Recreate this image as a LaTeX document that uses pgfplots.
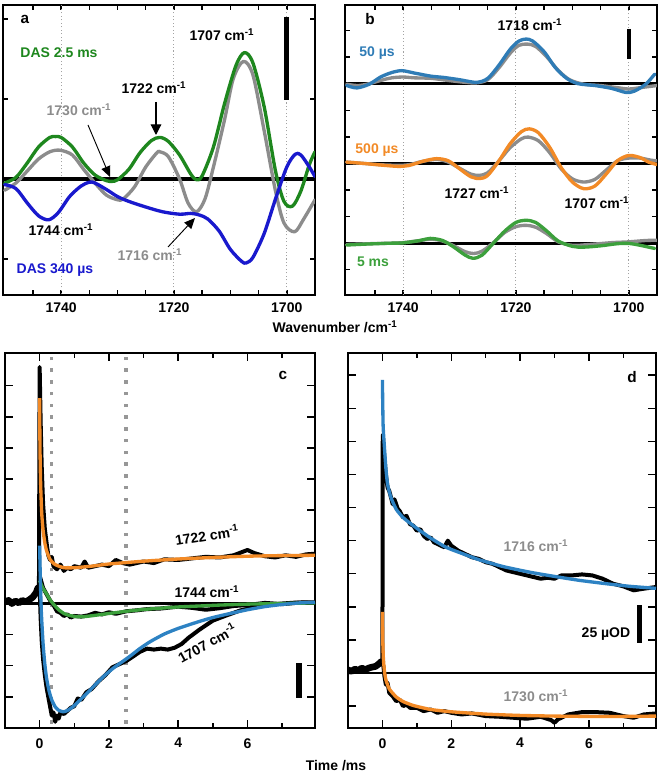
\documentclass[border=0pt]{standalone}
\usepackage{fontspec}
\setmainfont{Liberation Sans}
\usepackage{pgfplots}
\pgfplotsset{compat=1.18}
\usetikzlibrary{arrows.meta}

\definecolor{agreen}{RGB}{30,135,30}
\definecolor{agray}{RGB}{140,140,140}
\definecolor{ablue}{RGB}{25,25,205}
\definecolor{bblue}{RGB}{47,124,182}
\definecolor{borange}{RGB}{242,138,38}
\definecolor{bgreen}{RGB}{60,160,60}
\definecolor{cblue}{RGB}{45,130,195}

\newcommand{\lbl}{\fontsize{10.5}{12}\selectfont\bfseries}
\newcommand{\cmi}{cm\textsuperscript{-1}}

\pgfplotsset{
  frame/.style={
    scale only axis, clip=true,
    axis line style={line width=1.3pt},
    every tick/.style={black, line width=1.1pt},
    tick align=inside, tick pos=both, xticklabel pos=lower,
    yticklabels={},
    ticklabel style={font=\lbl},
  },
  panelab/.style={frame,
    x dir=reverse, xmin=1695, xmax=1750.3,
    xtick={1740,1720,1700}, xticklabels={1740,1720,1700},
    minor xtick={1745,1735,1730,1725,1715,1710,1705},
    major tick length=3.8pt, minor tick length=3.8pt,
    xticklabel style={yshift=-2.2pt},
  },
  panelcd/.style={frame,
    xmin=-1, xmax=7.95,
    xtick={0,2,4,6}, xticklabels={0,2,4,6},
    minor xtick={1,3,5,7},
    major tick length=6pt, minor tick length=3.8pt,
    xticklabel style={yshift=-4.2pt},
  },
  dotln/.style={agray!80, line width=0.8pt, dash pattern=on 0.8pt off 1.8pt, forget plot},
  thk/.style={line width=2.5pt, smooth, line join=round, line cap=round},
  fit/.style={line width=2.5pt, smooth, tension=0.35, line join=round},
  dat/.style={black, line width=3pt, line join=round},
}

\begin{document}
\begin{tikzpicture}
\useasboundingbox (0,0) rectangle (495pt,582pt);

% ---------------- panel a ----------------
\begin{axis}[panelab, at={(2.25pt,360.75pt)}, anchor=south west, width=234pt, height=217.5pt,
  ymin=-1.45, ymax=2.175, ytick={-1,0,1,2}]
\addplot[dotln] coordinates {(1740,-3)(1740,3)};
\addplot[dotln] coordinates {(1720,-3)(1720,3)};
\addplot[dotln] coordinates {(1700,-3)(1700,3)};
\addplot[black, line width=2.4pt] coordinates {(1750.3,0)(1695,0)};
\addplot[agray, thk] coordinates {
(1750,-0.14)(1748,-0.05)(1746,0.1)(1744,0.25)(1742,0.34)(1740.2,0.36)(1738,0.3)(1736,0.12)
(1734,-0.05)(1732,-0.2)(1730,-0.26)(1729,-0.25)(1727,-0.1)(1725,0.15)(1723,0.33)(1722.5,0.34)
(1721,0.28)(1719,0.0)(1717.5,-0.3)(1716,-0.41)(1714.5,-0.25)(1713,0.15)(1711,0.75)(1709.5,1.25)
(1707.7,1.47)(1706,1.3)(1704,0.6)(1702,-0.15)(1700.5,-0.55)(1698.6,-0.66)(1697,-0.5)(1695,-0.26)};
\addplot[agreen, thk] coordinates {
(1750,-0.05)(1748,0.02)(1746,0.2)(1744,0.4)(1742,0.52)(1741,0.53)(1740,0.52)(1738,0.4)
(1736,0.2)(1734,0.05)(1732,-0.02)(1731,-0.03)(1730,-0.01)(1728,0.12)(1726,0.33)(1724,0.48)
(1722.5,0.52)(1721,0.47)(1719,0.3)(1717,0.06)(1716,-0.01)(1715,0.04)(1713,0.4)(1711,0.95)
(1709,1.42)(1707.5,1.58)(1706,1.45)(1704,0.9)(1702,0.1)(1700.5,-0.28)(1699,-0.34)(1697.5,-0.15)
(1696,0.18)(1695,0.34)};
\addplot[ablue, thk] coordinates {
(1750,-0.07)(1748,-0.12)(1746,-0.3)(1744,-0.46)(1742.2,-0.51)(1740.5,-0.42)(1738.5,-0.22)
(1736.5,-0.09)(1735,-0.04)(1734,-0.05)(1732,-0.13)(1730,-0.22)(1728,-0.28)(1725,-0.35)
(1722,-0.41)(1719,-0.44)(1717,-0.43)(1715.5,-0.45)(1714,-0.5)(1712,-0.65)(1710,-0.88)
(1708,-1.03)(1707.2,-1.05)(1706,-0.98)(1704,-0.68)(1702,-0.25)(1700,0.15)(1698.5,0.31)
(1697.5,0.3)(1696,0.15)(1695,0.03)};
\draw[black, line width=3.8pt] (axis cs:1700,2.025) -- (axis cs:1700,0.99);
\end{axis}

% ---------------- panel b ----------------
\begin{axis}[panelab, at={(258.75pt,360.75pt)}, anchor=south west, width=234pt, height=217.5pt,
  ymin=-1.95, ymax=8.96, ytick={-1,0,1,2,3,4,5,6,7,8}]
\addplot[dotln] coordinates {(1740,-3)(1740,10)};
\addplot[dotln] coordinates {(1720,-3)(1720,10)};
\addplot[dotln] coordinates {(1700,-3)(1700,10)};
\addplot[black, line width=2.2pt] coordinates {(1750.3,6)(1695,6)};
\addplot[black, line width=2.2pt] coordinates {(1750.3,3)(1695,3)};
\addplot[black, line width=2.2pt] coordinates {(1750.3,0)(1695,0)};
% 50 us
\addplot[agray, thk] coordinates {
(1750,5.98)(1748,5.93)(1746,6.0)(1744,6.12)(1742,6.22)(1740,6.25)(1738,6.22)(1735,6.2)
(1732,6.12)(1729,6.05)(1727,6.03)(1725,6.15)(1723,6.6)(1721,7.15)(1719.5,7.44)(1718,7.49)
(1716.5,7.4)(1714.5,7.0)(1712.5,6.5)(1710.5,6.15)(1708,5.98)(1705,5.93)(1702,5.85)(1700,5.8)
(1698,5.85)(1695,5.93)};
\addplot[bblue, thk] coordinates {
(1750,5.93)(1748.2,5.84)(1746,5.98)(1744,6.25)(1742,6.42)(1740.2,6.49)(1738,6.4)(1735,6.28)
(1733,6.24)(1730,6.15)(1727,6.05)(1725,6.2)(1723,6.7)(1721,7.3)(1719.5,7.6)(1718.2,7.68)
(1717,7.6)(1715,7.2)(1713,6.6)(1711,6.2)(1709,6.0)(1706,5.93)(1703,5.82)(1700.5,5.67)
(1699,5.72)(1697,5.98)(1695.4,6.36)};
% 500 us
\addplot[agray, thk] coordinates {
(1750,3.05)(1747,3.0)(1744,2.95)(1741,2.93)(1739,2.95)(1736.5,3.08)(1734,3.15)(1732,3.05)
(1730,2.82)(1728,2.6)(1726.5,2.55)(1725,2.65)(1723,3.1)(1721,3.6)(1719,3.93)(1717.8,3.99)
(1716,3.85)(1714,3.4)(1712,2.8)(1710,2.42)(1708,2.3)(1706,2.4)(1704,2.75)(1702,3.1)
(1700,3.2)(1698,3.2)(1696,3.12)(1695,3.1)};
\addplot[borange, thk] coordinates {
(1750,3.05)(1747,3.0)(1744,2.94)(1741,2.89)(1739,2.92)(1736.5,3.08)(1734.1,3.18)(1732,3.1)
(1730,2.8)(1728,2.5)(1726.4,2.43)(1725,2.55)(1723,3.1)(1721,3.75)(1719,4.2)(1717.6,4.3)
(1716,4.15)(1714,3.6)(1712,2.85)(1710,2.3)(1708,2.05)(1706,2.15)(1704,2.6)(1702,3.1)
(1700,3.3)(1698,3.22)(1696.5,3.05)(1695,2.96)};
% 5 ms
\addplot[agray, thk] coordinates {
(1750,-0.05)(1746,-0.02)(1742,0.0)(1740,0.02)(1737,0.1)(1735,0.15)(1733,0.08)(1731,-0.1)
(1729,-0.32)(1727.5,-0.39)(1726,-0.3)(1724,0.02)(1722,0.4)(1720,0.62)(1718.2,0.67)
(1716.5,0.6)(1714.5,0.35)(1712.5,0.05)(1710,-0.08)(1707,-0.05)(1703,0.02)(1700,0.05)
(1697,0.1)(1695,0.11)};
\addplot[bgreen, thk] coordinates {
(1750,-0.07)(1746,-0.03)(1742,0.0)(1740,0.01)(1737,0.1)(1735.2,0.18)(1733,0.1)(1731,-0.15)
(1729,-0.45)(1727.6,-0.57)(1726,-0.45)(1724,0.0)(1722,0.45)(1720,0.78)(1718.2,0.86)
(1716.5,0.78)(1714.5,0.45)(1712.5,0.08)(1710,-0.12)(1708,-0.15)(1705,-0.1)(1702,-0.02)
(1700,-0.01)(1698,-0.08)(1695.4,-0.2)};
\draw[black, line width=3.2pt] (axis cs:1700,8.06) -- (axis cs:1700,6.94);
\end{axis}

% ---------------- panel c ----------------
\begin{axis}[panelcd, at={(3.75pt,36pt)}, anchor=south west, width=232.5pt, height=281.25pt,
  ymin=-4, ymax=8.05, ytick={-3,-2,-1,0,1,2,3,4,5,6,7}]
\addplot[agray!90, line width=2.8pt, dash pattern=on 2.6pt off 6.2pt] coordinates {(0.34,-5)(0.34,9)};
\addplot[agray!90, line width=2.8pt, dash pattern=on 2.6pt off 6.2pt] coordinates {(2.5,-5)(2.5,9)};
\addplot[black, line width=2pt] coordinates {(-1,0)(7.95,0)};
% pre-zero noise
\addplot[black, line width=5pt, line join=round] coordinates {
(-1,0.05)(-0.9,0.1)(-0.8,0.0)(-0.7,0.08)(-0.6,0.02)(-0.5,0.1)(-0.4,0.05)(-0.3,0.12)
(-0.2,0.2)(-0.1,0.35)(-0.05,0.5)(-0.02,0.3)};
% 1722 data
\addplot[dat] coordinates {
(-0.02,0.3)(0,7.6)(0.03,5.8)(0.06,4.4)(0.1,3.2)(0.15,2.4)(0.2,1.95)(0.25,1.55)(0.3,1.4)
(0.35,1.5)(0.4,1.2)(0.5,1.1)(0.6,1.25)(0.7,1.05)(0.8,1.15)(0.9,1.1)(1.0,1.2)(1.2,1.15)
(1.3,1.35)(1.4,1.15)(1.6,1.2)(1.8,1.25)(2.0,1.2)(2.2,1.4)(2.4,1.3)(2.6,1.25)(2.8,1.3)
(3.0,1.35)(3.3,1.3)(3.6,1.42)(4.0,1.4)(4.4,1.45)(4.8,1.5)(5.2,1.48)(5.6,1.55)(6.0,1.72)
(6.2,1.62)(6.5,1.52)(6.8,1.48)(7.1,1.55)(7.4,1.5)(7.7,1.58)(7.95,1.6)};
% 1744 data
\addplot[dat] coordinates {
(-0.02,0.3)(0,0.9)(0.05,0.7)(0.1,0.5)(0.2,0.3)(0.3,0.1)(0.4,-0.05)(0.5,-0.25)(0.6,-0.3)
(0.7,-0.4)(0.8,-0.35)(0.9,-0.45)(1.0,-0.4)(1.2,-0.42)(1.4,-0.38)(1.6,-0.3)(1.8,-0.35)
(2.0,-0.28)(2.2,-0.33)(2.5,-0.25)(2.8,-0.22)(3.1,-0.18)(3.5,-0.16)(4,-0.1)(4.4,-0.14)
(4.8,-0.2)(5.2,-0.15)(5.6,-0.08)(6,-0.05)(6.5,0.02)(7,-0.02)(7.5,0.03)(7.95,0.02)};
% 1707 data
\addplot[dat] coordinates {
(-0.02,0.3)(0,0.5)(0.03,-0.5)(0.06,-1.2)(0.1,-1.8)(0.15,-2.3)(0.2,-2.7)(0.25,-3.0)(0.3,-3.3)
(0.35,-3.6)(0.4,-3.5)(0.45,-3.8)(0.5,-3.6)(0.55,-3.7)(0.6,-3.5)(0.7,-3.55)(0.8,-3.45)
(0.9,-3.35)(1.0,-3.3)(1.1,-3.05)(1.2,-3.1)(1.35,-2.85)(1.5,-2.75)(1.7,-2.5)(1.9,-2.3)
(2.1,-2.05)(2.3,-1.95)(2.5,-1.85)(2.7,-1.7)(2.9,-1.55)(3.1,-1.45)(3.3,-1.48)(3.5,-1.45)
(3.7,-1.48)(3.9,-1.42)(4.1,-1.3)(4.3,-1.1)(4.6,-0.85)(5.0,-0.55)(5.4,-0.38)(5.8,-0.22)
(6.2,-0.12)(6.6,-0.05)(7.0,0.0)(7.4,0.03)(7.95,0.04)};
% fits
\addplot[borange, fit] coordinates {
(0,6.6)(0.01,5)(0.03,3.8)(0.06,2.9)(0.1,2.35)(0.15,1.95)(0.2,1.7)(0.3,1.42)(0.45,1.25)
(0.7,1.15)(1.0,1.15)(1.5,1.2)(2,1.27)(3,1.36)(4,1.43)(5,1.48)(6,1.52)(7,1.54)(7.95,1.55)};
\addplot[bgreen, fit] coordinates {
(0,0.74)(0.05,0.6)(0.1,0.48)(0.19,0.33)(0.3,0.12)(0.4,-0.02)(0.55,-0.2)(0.7,-0.32)
(0.85,-0.38)(1.05,-0.42)(1.3,-0.42)(1.6,-0.38)(2,-0.32)(2.5,-0.25)(3,-0.19)(3.5,-0.15)
(4,-0.11)(4.6,-0.08)(5.2,-0.05)(6,-0.02)(7,0.0)(7.95,0.02)};
\addplot[cblue, fit] coordinates {
(0,1.86)(0.02,0.8)(0.05,-0.3)(0.1,-1.3)(0.15,-1.95)(0.2,-2.4)(0.27,-2.8)(0.35,-3.1)
(0.45,-3.32)(0.55,-3.43)(0.68,-3.48)(0.8,-3.44)(0.96,-3.32)(1.15,-3.12)(1.35,-2.9)
(1.6,-2.62)(1.83,-2.36)(2.1,-2.1)(2.31,-1.93)(2.6,-1.7)(2.89,-1.45)(3.2,-1.22)(3.6,-0.98)
(4.0,-0.8)(4.6,-0.58)(5.0,-0.45)(5.5,-0.32)(6.0,-0.2)(6.5,-0.1)(7.0,-0.03)(7.5,0.02)(7.95,0.04)};
\draw[black, line width=4.2pt] (axis cs:7.49,-1.92) -- (axis cs:7.49,-3.04);
\end{axis}

% ---------------- panel d ----------------
\begin{axis}[panelcd, at={(261pt,36pt)}, anchor=south west, width=231pt, height=281.25pt,
  ymin=-1.66, ymax=9.67, ytick={-1,0,1,2,3,4,5,6,7,8,9}]
\addplot[black, line width=2pt] coordinates {(-1,0)(7.95,0)};
\addplot[black, line width=5pt, line join=round] coordinates {
(-1,0.1)(-0.9,0.05)(-0.8,0.12)(-0.7,0.08)(-0.6,0.15)(-0.5,0.1)(-0.4,0.15)(-0.3,0.18)
(-0.2,0.2)(-0.1,0.28)(-0.03,0.35)(0,0.3)};
% 1716 data
\addplot[dat] coordinates {
(0,0.3)(0.01,7.2)(0.05,6.6)(0.1,6.0)(0.15,5.6)(0.2,5.5)(0.3,5.1)(0.35,5.25)(0.45,4.95)
(0.5,4.9)(0.6,4.7)(0.7,4.75)(0.8,4.5)(0.9,4.45)(1.0,4.3)(1.1,4.35)(1.2,4.15)(1.3,4.05)
(1.4,4.1)(1.5,3.95)(1.6,3.9)(1.7,3.85)(1.8,3.8)(1.9,4.0)(2.0,3.85)(2.2,3.7)(2.4,3.6)
(2.6,3.5)(2.8,3.45)(3.0,3.35)(3.2,3.3)(3.4,3.2)(3.6,3.1)(3.8,3.05)(4.0,3.0)(4.2,2.95)
(4.4,2.9)(4.6,2.85)(4.8,2.88)(5.0,2.85)(5.2,2.95)(5.5,2.95)(5.8,2.98)(6.1,2.95)(6.4,2.85)
(6.7,2.7)(7.0,2.62)(7.3,2.5)(7.6,2.55)(7.95,2.6)};
% 1730 data
\addplot[dat] coordinates {
(0,0.3)(0.03,0.2)(0.06,-0.1)(0.1,-0.35)(0.15,-0.3)(0.2,-0.6)(0.3,-0.7)(0.4,-0.85)
(0.5,-0.8)(0.6,-1.0)(0.7,-0.95)(0.8,-1.05)(1.0,-1.05)(1.2,-1.15)(1.4,-1.1)(1.6,-1.2)
(1.8,-1.15)(2.0,-1.2)(2.3,-1.25)(2.6,-1.22)(3.0,-1.3)(3.4,-1.32)(3.8,-1.35)(4.2,-1.38)
(4.6,-1.32)(4.9,-1.42)(5.0,-1.5)(5.1,-1.4)(5.4,-1.25)(5.8,-1.18)(6.2,-1.18)(6.6,-1.2)
(7.0,-1.3)(7.3,-1.35)(7.6,-1.25)(7.95,-1.22)};
\addplot[cblue, fit] coordinates {
(0,8.86)(0.02,7.5)(0.06,6.8)(0.1,6.2)(0.15,5.7)(0.25,5.3)(0.4,4.95)(0.6,4.7)(0.9,4.45)
(1.37,4.1)(1.85,3.8)(2.4,3.58)(2.82,3.42)(3.5,3.22)(4.27,3.05)(5.0,2.92)(5.73,2.8)
(6.5,2.7)(7.2,2.62)(7.95,2.56)};
\addplot[borange, fit] coordinates {
(0,1.85)(0.01,1.0)(0.03,0.4)(0.06,0.05)(0.1,-0.2)(0.2,-0.48)(0.4,-0.72)(0.6,-0.86)
(0.9,-0.98)(1.4,-1.1)(2,-1.17)(3,-1.24)(4,-1.28)(5,-1.3)(6,-1.31)(7,-1.31)(7.95,-1.3)};
\draw[black, line width=4pt] (axis cs:7.47,2.05) -- (axis cs:7.47,0.9);
\end{axis}

% ---------------- annotations ----------------
\begin{scope}[x=0.75pt, y=0.75pt, every node/.style={font=\lbl, inner sep=0pt}]
% a
\node[font=\fontsize{11.5}{13}\selectfont\bfseries] at (25,757) {a};
\node[text=agreen] at (59,723) {DAS 2.5 ms};
\node at (222,741) {1707 \cmi};
\node at (154,688) {1722 \cmi};
\node[text=agray] at (79,666) {1730 \cmi};
\node at (61,546) {1744 \cmi};
\node[text=agray] at (150,521) {1716 \cmi};
\node[text=ablue] at (55,506) {DAS 340 µs};
\draw[line width=0.9pt, -{Triangle[length=8pt,width=8pt]}] (156,674) -- (156,641);
\draw[line width=0.7pt, -{Triangle[length=8pt,width=7pt]}] (88,651) -- (110,599);
\draw[line width=0.7pt, -{Triangle[length=8pt,width=7pt]}] (168,529) -- (195,558);
% b
\node[font=\fontsize{11.5}{13}\selectfont\bfseries] at (370,757) {b};
\node at (530,751) {1718 \cmi};
\node[text=bblue] at (377,723) {50 µs};
\node[text=borange] at (377,626) {500 µs};
\node at (477,583) {1727 \cmi};
\node at (597,573) {1707 \cmi};
\node[text=bgreen] at (373,514) {5 ms};
\node at (335,449) {Wavenumber /\cmi};
% c
\node[font=\fontsize{11.5}{13}\selectfont\bfseries] at (283,401) {c};
\node[rotate=9] at (207,241) {1722 \cmi};
\node at (207,184) {1744 \cmi};
\node[rotate=29] at (207,133) {1707 \cmi};
% d
\node[font=\fontsize{11.5}{13}\selectfont\bfseries] at (632,399) {d};
\node[text=agray] at (536,230) {1716 \cmi};
\node[text=agray] at (536,80) {1730 \cmi};
\node at (606,142) {25 µOD};
\node at (336,10) {Time /ms};
\end{scope}
\end{tikzpicture}
\end{document}
